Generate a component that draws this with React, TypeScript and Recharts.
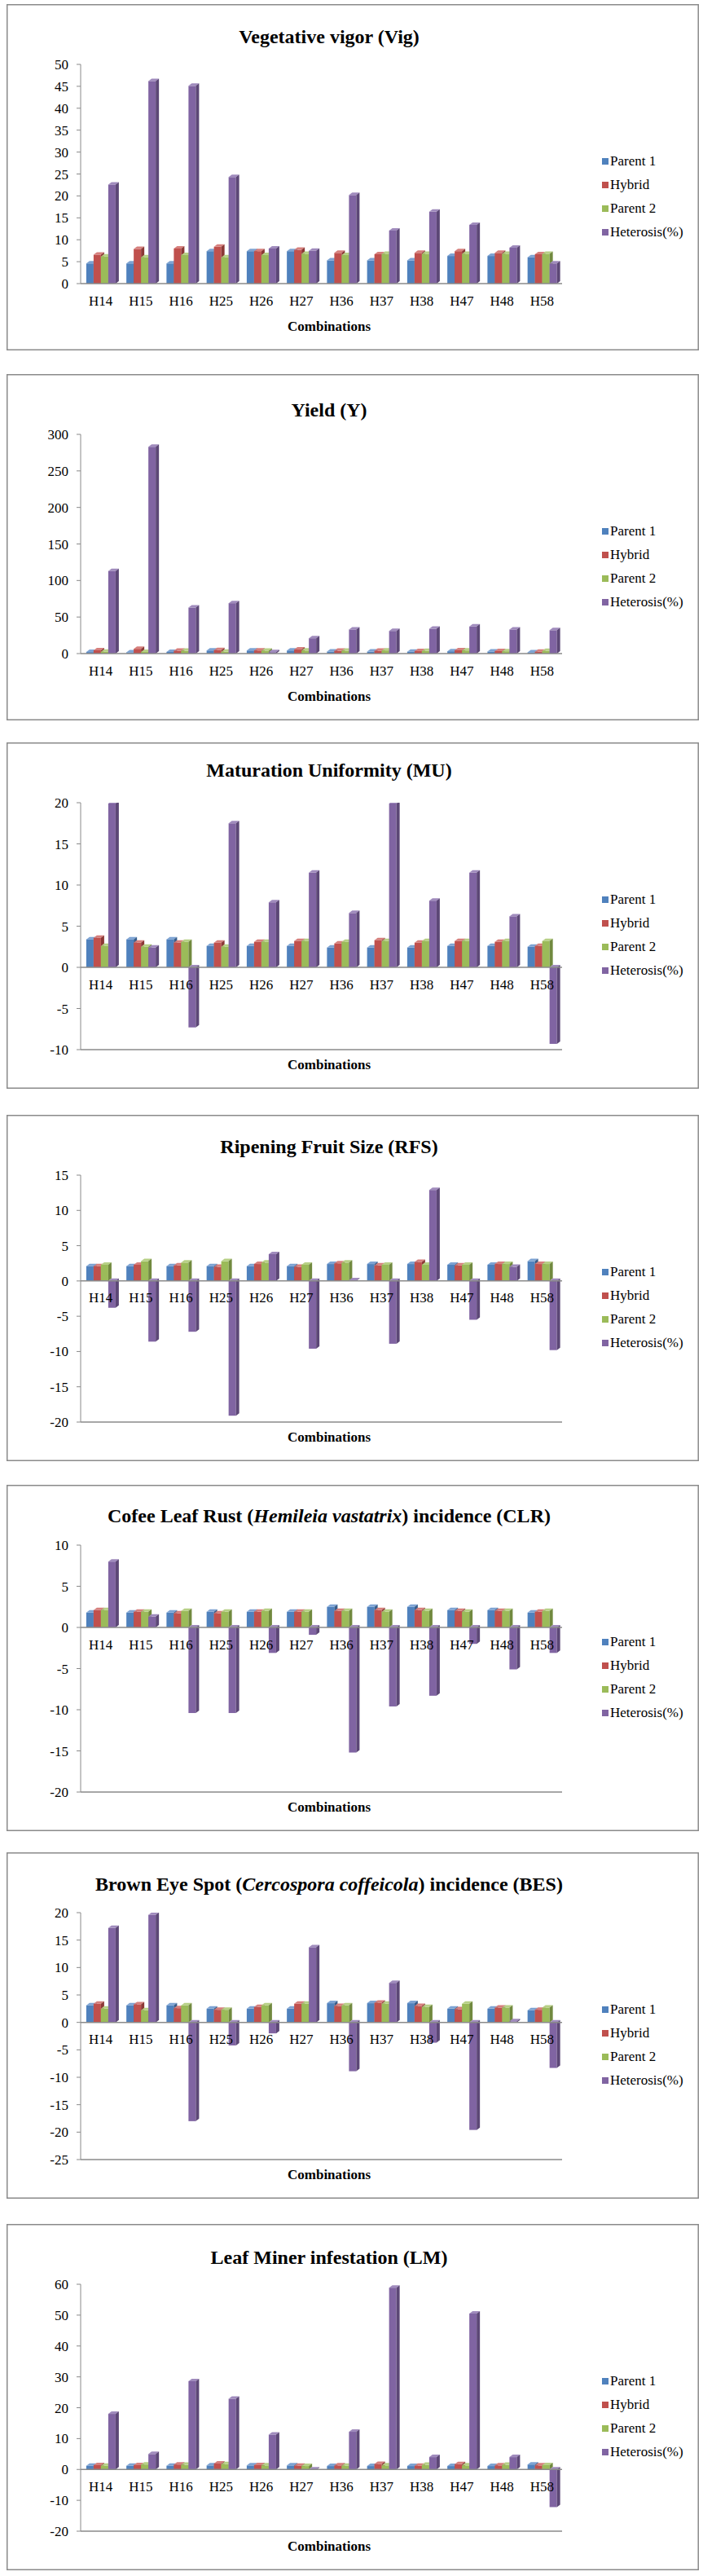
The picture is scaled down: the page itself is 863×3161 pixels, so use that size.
import React from 'react';
import { BarChart, Bar, XAxis, YAxis, ReferenceLine } from 'recharts';

const COMBINATIONS = ['H14', 'H15', 'H16', 'H25', 'H26', 'H27', 'H36', 'H37', 'H38', 'H47', 'H48', 'H58'];
const SERIES = ['Parent 1', 'Hybrid', 'Parent 2', 'Heterosis(%)'];
const FRONT = ['#4F81BD', '#C0504D', '#9BBB59', '#8064A2'];
const TOP = ['#7DA3D3', '#D67F7C', '#B7D086', '#A08BBD'];
const SIDE = ['#385D8A', '#8C3836', '#71893F', '#5C4776'];

// Vegetative vigor
const VIG_P1 = [4.6, 4.6, 4.6, 7.4, 7.4, 7.4, 5.3, 5.3, 5.3, 6.3, 6.3, 6.0];
const VIG_HY = [6.6, 7.9, 8.0, 8.4, 7.4, 7.7, 7.0, 6.7, 7.0, 7.4, 7.0, 6.7];
const VIG_P2 = [6.2, 6.0, 6.5, 6.0, 6.5, 6.8, 6.5, 6.8, 6.8, 6.8, 6.8, 6.8];
const VIG_HET = [22.6, 46.2, 45.1, 24.3, 8.0, 7.5, 20.2, 12.1, 16.4, 13.4, 8.2, 4.6];
const VIG_TICKS = [0, 5, 10, 15, 20, 25, 30, 35, 40, 45, 50];

// Yield
const Y_P1 = [2.1, 1.8, 2.3, 4.2, 4.2, 4.2, 2.8, 2.7, 2.6, 3.2, 2.8, 1.8];
const Y_HY = [4.5, 6.5, 3.9, 4.8, 4.2, 5.5, 3.8, 3.9, 3.3, 4.6, 3.4, 2.6];
const Y_P2 = [2.6, 2.2, 3.8, 2.4, 4.0, 4.1, 3.9, 4.3, 3.5, 4.2, 3.2, 3.6];
const Y_HET = [113, 283, 63, 69, 2, 21, 33, 31, 34, 37, 33, 32];
const Y_TICKS = [0, 50, 100, 150, 200, 250, 300];

// Maturation uniformity
const MU_P1 = [3.4, 3.4, 3.4, 2.6, 2.6, 2.6, 2.4, 2.4, 2.4, 2.6, 2.6, 2.5];
const MU_HY = [3.6, 3.0, 3.0, 3.0, 3.1, 3.2, 2.9, 3.3, 3.0, 3.2, 3.1, 2.6];
const MU_P2 = [2.6, 2.5, 3.1, 2.5, 3.1, 3.2, 3.1, 3.2, 3.2, 3.2, 3.2, 3.2];
const MU_HET = [19.9, 2.4, -7.3, 17.5, 7.9, 11.5, 6.6, 19.9, 8.1, 11.5, 6.2, -9.3];
const MU_TICKS = [-10, -5, 0, 5, 10, 15, 20];

// Ripening fruit size
const RFS_P1 = [2.1, 2.1, 2.1, 2.1, 2.1, 2.1, 2.4, 2.4, 2.4, 2.3, 2.3, 2.8];
const RFS_HY = [2.1, 2.3, 2.2, 2.0, 2.4, 2.0, 2.5, 2.2, 2.7, 2.2, 2.4, 2.4];
const RFS_P2 = [2.3, 2.8, 2.6, 2.8, 2.6, 2.3, 2.6, 2.3, 2.3, 2.3, 2.4, 2.4];
const RFS_HET = [-3.8, -8.6, -7.2, -19.1, 3.8, -9.6, 0.1, -8.9, 12.9, -5.5, 2.0, -9.8];
const RFS_TICKS = [-20, -15, -10, -5, 0, 5, 10, 15];

// Coffee leaf rust
const CLR_P1 = [1.8, 1.8, 1.8, 1.9, 1.9, 1.9, 2.5, 2.5, 2.5, 2.1, 2.1, 1.8];
const CLR_HY = [2.1, 1.9, 1.7, 1.7, 1.9, 1.9, 2.0, 2.1, 2.1, 2.0, 2.0, 1.9];
const CLR_P2 = [2.1, 1.9, 2.0, 1.9, 2.0, 1.9, 2.0, 1.9, 2.0, 1.9, 2.0, 2.0];
const CLR_HET = [8.0, 1.3, -10.4, -10.4, -3.1, -0.9, -15.2, -9.6, -8.3, -2.0, -5.1, -3.1];
const CLR_TICKS = [-20, -15, -10, -5, 0, 5, 10];

// Brown eye spot
const BES_P1 = [3.1, 3.1, 3.1, 2.5, 2.5, 2.5, 3.5, 3.5, 3.5, 2.5, 2.5, 2.2];
const BES_HY = [3.4, 3.3, 2.6, 2.3, 2.8, 3.4, 3.0, 3.6, 3.0, 2.4, 2.7, 2.3];
const BES_P2 = [2.5, 2.2, 3.1, 2.3, 3.1, 3.4, 3.1, 3.4, 2.8, 3.4, 2.7, 2.7];
const BES_HET = [17.2, 19.6, -18.0, -4.2, -2.0, 13.7, -8.9, 7.2, -3.7, -19.6, 0.2, -8.3];
const BES_TICKS = [-25, -20, -15, -10, -5, 0, 5, 10, 15, 20];

// Leaf miner
const LM_P1 = [1.2, 1.2, 1.2, 1.3, 1.3, 1.3, 1.1, 1.1, 1.1, 1.1, 1.1, 1.6];
const LM_HY = [1.4, 1.4, 1.6, 1.9, 1.4, 1.2, 1.3, 1.8, 1.2, 1.7, 1.3, 1.3];
const LM_P2 = [1.2, 1.6, 1.5, 1.7, 1.3, 1.1, 1.2, 1.3, 1.5, 1.3, 1.5, 1.4];
const LM_HET = [18.0, 5.0, 28.6, 22.9, 11.3, -0.2, 12.2, 58.9, 4.0, 50.5, 4.0, -12.2];
const LM_TICKS = [-20, -10, 0, 10, 20, 30, 40, 50, 60];

const FONT = '"Liberation Serif", "Times New Roman", serif';
const W = 850;
const H = 425;
const PLOT_LEFT = 91;
const PLOT_RIGHT = 682;
const PLOT_TOP = 74;
const Y_AXIS_W = 50;
const X_AXIS_H = 30;
const DX = 4;
const DY = 3;

function Bar3D(props: any) {
  const { x, y, width, height, ci } = props;
  if (x == null || !width) return null;
  const top = height < 0 ? y + height : y;
  const h = Math.abs(height);
  return (
    <g>
      <rect x={x} y={top} width={width} height={h} fill={FRONT[ci]} />
      <polygon
        points={`${x},${top} ${x + DX},${top - DY} ${x + width + DX},${top - DY} ${x + width},${top}`}
        fill={TOP[ci]}
      />
      <polygon
        points={`${x + width},${top} ${x + width + DX},${top - DY} ${x + width + DX},${top + h - DY} ${x + width},${top + h}`}
        fill={SIDE[ci]}
      />
    </g>
  );
}

function Panel({ top, titleY, title, values, ticks }: {
  top: number;
  titleY: number;
  title: React.ReactNode;
  values: number[][];
  ticks: number[];
}) {
  const data = COMBINATIONS.map((c, i) => ({
    name: c,
    s0: values[0][i],
    s1: values[1][i],
    s2: values[2][i],
    s3: values[3][i],
  }));
  const min = ticks[0];
  const max = ticks[ticks.length - 1];
  const hasNeg = min < 0;
  const plotBottom = hasNeg ? 377 : 343;
  const zeroY = PLOT_TOP + (max / (max - min)) * (plotBottom - PLOT_TOP);
  const labelY = zeroY + 21;

  return (
    <div style={{
      position: 'absolute', left: 8, top, width: W, height: H, background: '#fff',
      boxShadow: 'inset 0 0 0 1.5px #8a8a8a',
    }}>
      <div style={{
        position: 'absolute', left: 0, width: 792, top: titleY - 15, textAlign: 'center',
        fontFamily: FONT, fontWeight: 'bold', fontSize: 24, lineHeight: '30px', color: '#000',
      }}>{title}</div>
      <div style={{ position: 'absolute', left: 0, top: 0 }}>
        <BarChart
          width={W}
          height={H}
          data={data}
          margin={{ top: PLOT_TOP, right: W - PLOT_RIGHT, bottom: H - plotBottom - X_AXIS_H, left: PLOT_LEFT - Y_AXIS_W }}
          barCategoryGap="14%"
          barGap={0}
        >
          <XAxis
            dataKey="name"
            height={X_AXIS_H}
            interval={0}
            axisLine={{ stroke: '#8a8a8a', strokeWidth: 1.5 }}
            tickLine={false}
            tick={(p: any) => (
              <text x={p.x} y={labelY} textAnchor="middle" dominantBaseline="central"
                fontFamily={FONT} fontSize={17} fill="#000">{p.payload.value}</text>
            )}
          />
          <YAxis
            width={Y_AXIS_W}
            domain={[min, max]}
            ticks={ticks}
            interval={0}
            allowDataOverflow
            tickSize={5}
            tickMargin={10}
            axisLine={{ stroke: '#8a8a8a' }}
            tickLine={{ stroke: '#8a8a8a' }}
            tick={{ fontFamily: FONT, fontSize: 17, fill: '#000' }}
          />
          {hasNeg && <ReferenceLine y={0} stroke="#8a8a8a" strokeWidth={1.5} />}
          {SERIES.map((s, i) => (
            <Bar
              key={s}
              dataKey={`s${i}`}
              name={s}
              fill={FRONT[i]}
              isAnimationActive={false}
              shape={(p: any) => <Bar3D {...p} ci={i} />}
            />
          ))}
        </BarChart>
      </div>
      <div style={{ position: 'absolute', left: 731, top: 178 }}>
        {SERIES.map((s, i) => (
          <div key={s} style={{ display: 'flex', alignItems: 'center', height: 29 }}>
            <span style={{ width: 8, height: 8, background: FRONT[i], marginRight: 2 }} />
            <span style={{ fontFamily: FONT, fontSize: 17, color: '#000' }}>{s}</span>
          </div>
        ))}
      </div>
      <div style={{
        position: 'absolute', left: 0, width: 792, top: 385, textAlign: 'center',
        fontFamily: FONT, fontWeight: 'bold', fontSize: 17, lineHeight: '22px', color: '#000',
      }}>Combinations</div>
    </div>
  );
}

export default function App() {
  return (
    <div style={{ position: 'absolute', left: 0, top: 0, width: 863, height: 3161, background: '#fff' }}>
      <Panel top={5} titleY={40} title="Vegetative vigor (Vig)"
        values={[VIG_P1, VIG_HY, VIG_P2, VIG_HET]} ticks={VIG_TICKS} />
      <Panel top={459} titleY={44} title="Yield (Y)"
        values={[Y_P1, Y_HY, Y_P2, Y_HET]} ticks={Y_TICKS} />
      <Panel top={911} titleY={34} title="Maturation Uniformity (MU)"
        values={[MU_P1, MU_HY, MU_P2, MU_HET]} ticks={MU_TICKS} />
      <Panel top={1368} titleY={39} title="Ripening Fruit Size (RFS)"
        values={[RFS_P1, RFS_HY, RFS_P2, RFS_HET]} ticks={RFS_TICKS} />
      <Panel top={1822} titleY={38}
        title={<>Cofee Leaf Rust (<i>Hemileia vastatrix</i>) incidence (CLR)</>}
        values={[CLR_P1, CLR_HY, CLR_P2, CLR_HET]} ticks={CLR_TICKS} />
      <Panel top={2273} titleY={39}
        title={<>Brown Eye Spot (<i>Cercospora coffeicola</i>) incidence (BES)</>}
        values={[BES_P1, BES_HY, BES_P2, BES_HET]} ticks={BES_TICKS} />
      <Panel top={2729} titleY={41} title="Leaf Miner infestation (LM)"
        values={[LM_P1, LM_HY, LM_P2, LM_HET]} ticks={LM_TICKS} />
    </div>
  );
}
